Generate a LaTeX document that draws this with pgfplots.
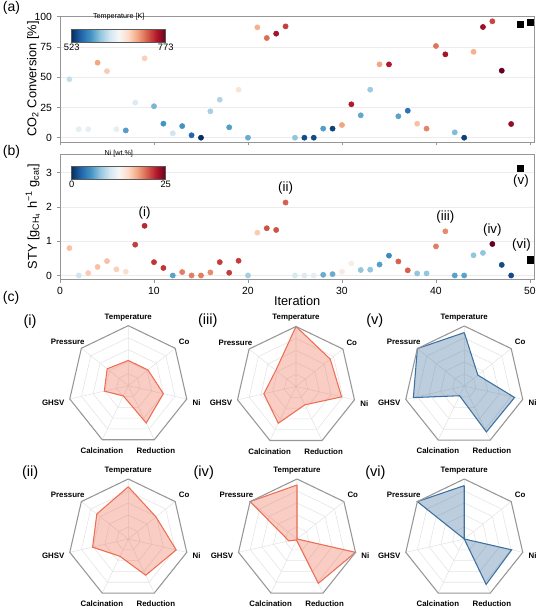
\documentclass[border=0pt]{standalone}
\usepackage{fontspec}
\setmainfont{Liberation Sans}
\usepackage{pgfplots}
\pgfplotsset{compat=1.18}
\usetikzlibrary{calc}

\definecolor{rline}{RGB}{238,110,85}
\definecolor{bline}{RGB}{62,112,160}
\definecolor{framegray}{RGB}{150,150,150}

\pgfplotsset{colormap={rdbu}{rgb255=(5,48,97) rgb255=(33,102,172) rgb255=(67,147,195) rgb255=(146,197,222) rgb255=(209,229,240) rgb255=(247,247,247) rgb255=(253,219,199) rgb255=(244,165,130) rgb255=(214,96,77) rgb255=(178,24,43) rgb255=(103,0,31)}}

\pgfplotsset{
  mainax/.style={scale only axis, width=355.7pt, xmin=0, xmax=50.46,
    xtick={0,10,...,50}, axis line style={framegray, line width=0.6pt},
    tick style={framegray, line width=0.5pt}, major tick length=2.5pt,
    tick align=outside, xtick pos=bottom, ytick pos=left,
    ymajorgrids, major grid style={gray!15, line width=0.4pt},
    ticklabel style={font=\fontsize{7.8}{9}\selectfont},
    /pgf/number format/assume math mode=true,
    label style={font=\fontsize{9.6}{11}\selectfont}, clip=false},
  scat/.style={scatter, only marks, mark=*, mark size=1.95pt, scatter src=explicit,
    scatter/use mapped color={draw=mapped color, fill=mapped color}},
  cbar/.style={colorbar horizontal, colorbar shift/.style={}, colorbar style={at={(parent axis.north west)}, anchor=north west,
    xshift=8.8pt, yshift=-#1, scale only axis, width=70.5pt, height=9.75pt,
    xticklabel style={font=\fontsize{7}{8}\selectfont, inner sep=1pt},
    major tick length=0pt, axis line style={black!65, line width=0.5pt},
    title style={font=\fontsize{5.4}{6}\selectfont, inner sep=1pt, at={(0.5,1)}, anchor=south}}},
  rad/.style={scale only axis, width=90pt, height=90pt, xmin=-1, xmax=1, ymin=-1, ymax=1, hide axis, clip=false}
}

\newcommand\ring[1]{\addplot[gray!22, line width=0.4pt, data cs=polar] coordinates {(90,#1) (38.57,#1) (-12.86,#1) (-64.29,#1) (-115.71,#1) (-167.14,#1) (141.43,#1) (90,#1)};}

\newcommand\radar[4]{%
\begin{axis}[rad, at={(#1,#2)}, anchor=center]
\ring{0.2}\ring{0.4}\ring{0.6}\ring{0.8}
\addplot[gray!22, line width=0.4pt, data cs=polar] coordinates {(90,1) (0,0) (38.57,1) (0,0) (-12.86,1) (0,0) (-64.29,1) (0,0) (-115.71,1) (0,0) (-167.14,1) (0,0) (141.43,1)};
\addplot[fill=#3, fill opacity=0.35, draw=#3, line width=0.8pt, data cs=polar] coordinates {#4};
\addplot[framegray, line width=0.8pt, data cs=polar] coordinates {(90,1) (38.57,1) (-12.86,1) (-64.29,1) (-115.71,1) (-167.14,1) (141.43,1) (90,1)};
\begin{scope}[every node/.style={font=\bfseries\fontsize{5.9}{7}\selectfont, inner sep=0pt}]
\node at (axis cs:0,1.14) {Temperature};
\node at (axis cs:0.93,0.73) {Co};
\node at (axis cs:1.14,-0.28) {Ni};
\node at (axis cs:0.46,-1.08) {Reduction};
\node at (axis cs:-0.44,-1.08) {Calcination};
\node at (axis cs:-1.25,-0.28) {GHSV};
\node at (axis cs:-1.01,0.73) {Pressure};
\end{scope}
\end{axis}}

\begin{document}
\begin{tikzpicture}
\useasboundingbox (0,0) rectangle (404.25pt,456.75pt);

% ---------------- (a)
\begin{axis}[mainax, at={(45pt,350.25pt)}, anchor=south west, height=94.5pt,
  ymin=-3.55, ymax=100.6, ytick={0,25,50,75,100}, xticklabels=\empty,
  ylabel={CO\textsubscript{2} Conversion [\%]},
  ylabel style={at={(axis description cs:-0.057,0.5)}, anchor=center},
  point meta min=523, point meta max=773,
  cbar=10pt, colorbar style={xtick={523,773}, xticklabels={523,773}, title={Temperature [K]}}]
\addplot[scat] table[meta=m] {
x y m
1 48.3 618
2 7 635.5
3 7 635.5
4 62 698
5 55 680.5
6 7 635.5
7 6 578
8 29 630.5
9 65.6 678
10 26 590.5
11 11.6 573
12 3.6 623
13 9.6 573
14 2 548
15 0 523
16 21.8 605.5
17 31.4 610.5
18 8.6 578
19 39.7 665.5
20 0 585.5
21 91.2 693
22 82.4 718
23 86 753
24 92 735.5
25 0 598
26 0 535.5
27 0 535.5
28 7.5 578
29 7.5 530.5
30 10.5 698
31 27.6 748
32 18.5 583
33 39.7 603
34 60.6 698
35 60.6 748
36 17.7 580.5
37 22.3 555.5
38 11.6 685.5
39 7.5 710.5
40 75.8 715.5
41 68.9 753
42 4.4 593
43 0 530.5
44 71 693
45 91.5 755.5
46 96.2 733
47 55.4 773
48 11.3 758
};
\addplot[only marks, mark=square*, mark size=2.3pt, black] coordinates {(49,93.4) (50,95.3)};
\end{axis}

% ---------------- (b)
\begin{axis}[mainax, at={(45pt,247.3pt)}, anchor=south west, height=94pt,
  ymin=-0.11, ymax=3.55, ytick={0,1,2,3},
  xlabel={Iteration},
  xlabel style={at={(axis description cs:0.5,-0.173)}, anchor=center},
  ylabel={STY [g\textsubscript{CH\textsubscript{4}} h\textsuperscript{−1} g\textsubscript{cat}]},
  ylabel style={at={(axis description cs:-0.057,0.5)}, anchor=center},
  point meta min=0, point meta max=25,
  cbar=9.4pt, colorbar style={xtick={0,25}, xticklabels={0,25}, title={Ni [wt.\%]}}]
\addplot[scat] table[meta=m] {
x y m
1 0.80 16.25
2 0 10
3 0.07 15.75
4 0.25 16.25
5 0.42 16.25
6 0.18 15.5
7 0.11 14.75
8 0.9 21.25
9 1.45 22
10 0.39 21.5
11 0.22 21.5
12 0 5.75
13 0.1 19
14 0 19
15 0 19
16 0.09 18.5
17 0.39 21.25
18 0.08 21.25
19 0.43 21.25
20 0 8.25
21 1.25 15.75
22 1.38 20.5
23 1.33 20.5
24 2.13 20
25 0 10.5
26 0 10.75
27 0 11.25
28 0.02 6.25
29 0.04 6.25
30 0.11 13.75
31 0.35 13.5
32 0.16 7.5
33 0.17 7.5
34 0.32 5.5
35 0.58 4.5
36 0.41 20
37 0.15 20
38 0.06 7.5
39 0.06 7.5
40 0.85 19
41 1.29 18.5
42 0 5.75
43 0 5.75
44 0.59 7.5
45 0.66 7.5
46 0.92 25
47 0.31 1.25
48 0 1.25
};
\addplot[only marks, mark=square*, mark size=2.3pt, black] coordinates {(49,3.14) (50,0.46)};
\begin{scope}[every node/.style={font=\fontsize{10}{12}\selectfont, inner sep=0pt}]
\node at (axis cs:9,1.83) {(i)};
\node at (axis cs:24,2.55) {(ii)};
\node at (axis cs:41,1.72) {(iii)};
\node at (axis cs:46,1.33) {(iv)};
\node at (axis cs:49.05,2.76) {(v)};
\node at (axis cs:49.1,0.89) {(vi)};
\end{scope}
\end{axis}

% ---------------- (c) radars
\radar{96.2pt}{167.5pt}{rline}{(90,0.42) (38.57,0.42) (-12.86,0.60) (-64.29,0.69) (-115.71,0.19) (-167.14,0.41) (141.43,0.45) (90,0.42)}
\radar{222pt}{166.9pt}{rline}{(90,1.0) (38.57,0.73) (-12.86,0.78) (-64.29,0.34) (-115.71,0.68) (-167.14,0.55) (141.43,0.43) (90,1.0)}
\radar{348.2pt}{167.25pt}{bline}{(90,0.89) (38.57,0.29) (-12.86,0.86) (-64.29,0.85) (-115.71,0.18) (-167.14,0.87) (141.43,1.0) (90,0.89)}
\radar{96.2pt}{52.5pt}{rline}{(90,0.87) (38.57,0.59) (-12.86,0.82) (-64.29,0.67) (-115.71,0.32) (-167.14,0.61) (141.43,0.67) (90,0.87)}
\radar{222.75pt}{52.5pt}{rline}{(90,0.90) (38.57,0) (-12.86,1.0) (-64.29,0.82) (-115.71,0.02) (-167.14,0.14) (141.43,1.0) (90,0.90)}
\radar{348.2pt}{52.5pt}{bline}{(90,0.89) (38.57,0) (-12.86,0.81) (-64.29,0.84) (-115.71,0) (-167.14,0) (141.43,1.0) (90,0.89)}

% ---------------- panel labels
\begin{scope}[every node/.style={font=\fontsize{10.5}{12}\selectfont, inner sep=0pt, anchor=west}]
\node at (2pt,450.5pt) {(a)};
\node at (2pt,343pt) {(b)};
\node at (2pt,233pt) {(c)};
\end{scope}
\begin{scope}[every node/.style={font=\fontsize{11}{13}\selectfont, inner sep=0pt, anchor=west}]
\node at (17.5pt,215.5pt) {(i)};
\node at (148.3pt,216pt) {(iii)};
\node at (274.5pt,216pt) {(v)};
\node at (16.3pt,102.4pt) {(ii)};
\node at (145pt,102.4pt) {(iv)};
\node at (273.75pt,102.4pt) {(vi)};
\end{scope}
\end{tikzpicture}
\end{document}
